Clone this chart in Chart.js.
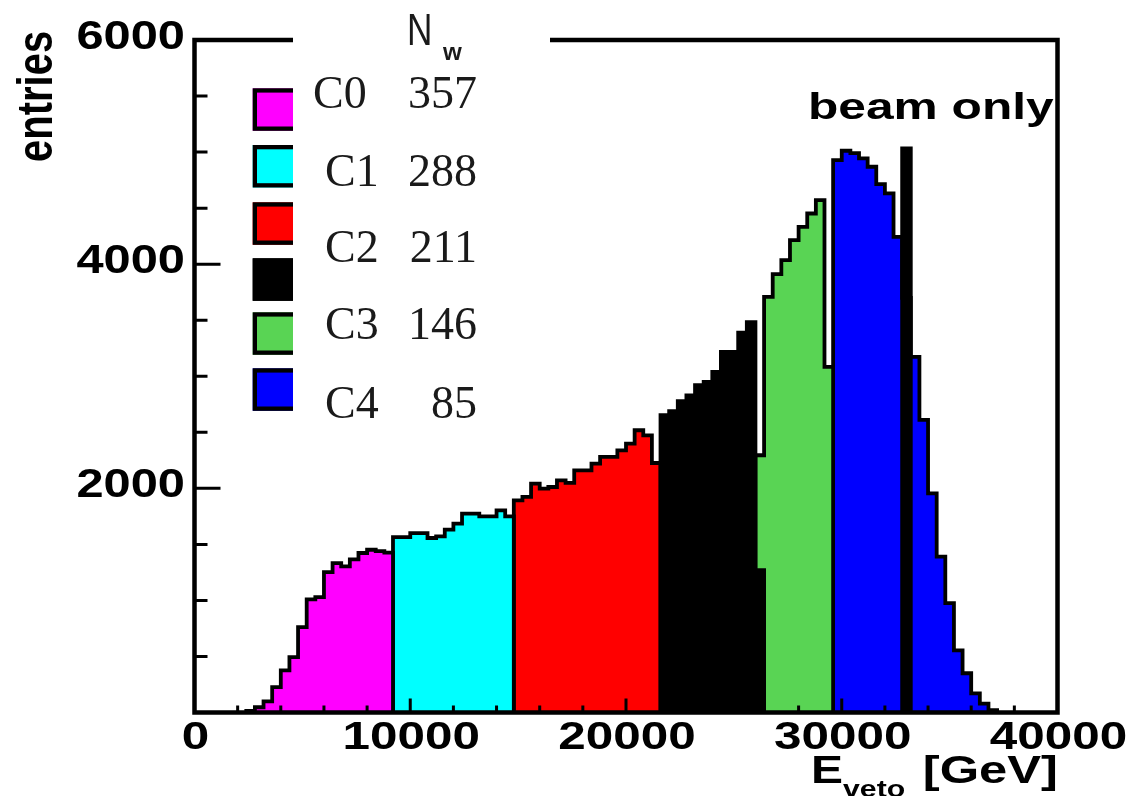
<!DOCTYPE html>
<html>
<head>
<meta charset="utf-8">
<script src="https://cdn.jsdelivr.net/npm/chart.js@4.4.1/dist/chart.umd.min.js"></script>
<style>
  html, body { margin: 0; background: #fff; }
  canvas { display: block; }
</style>
</head>
<body>
<canvas id="chart" width="1128" height="796"></canvas>
<script>
// histogram bins are 400 GeV wide; each segment starts at the given E_veto
const binWidth = 400;

const c0Start = 2400;
const c0 = [15, 47, 100, 226, 375, 494, 762, 1009, 1030, 1253, 1333, 1304, 1366, 1423, 1452, 1440, 1426];
const c1Start = 9200;
const c1 = [1565, 1565, 1601, 1601, 1557, 1571, 1631, 1685, 1774, 1774, 1750, 1750, 1804, 1750];
const c2Start = 14800;
const c2 = [1893, 1923, 2042, 1997, 2012, 2071, 2048, 2161, 2161, 2220, 2280, 2280, 2339, 2399, 2518, 2473, 2226];
const blkStart = 21600;
const blk = [2652, 2688, 2777, 2830, 2920, 2949, 3039, 3217, 3217, 3390, 3482, 1270];
const c3Start = 26000;
const c3 = [2295, 3708, 3911, 4036, 4214, 4333, 4452, 4571, 3083];
const c4Start = 29600;
const c4 = [4929, 5012, 4990, 4943, 4869, 4714, 4631, 4244, 3700, 3173, 2610, 1955, 1390, 975, 555, 350, 170, 80, 20];
const beamStart = 32800;
const beam = [5033];

const xTicks = [0, 10000, 20000, 30000, 40000];
const yTicks = [2000, 4000, 6000];
const legendLabels = ["C0", "C1", "C2", "C3", "C4"];
const legendCounts = ["357", "288", "211", "146", "85"];

const colors = {
  c0: "#ff00ff", c1: "#00ffff", c2: "#ff0000", blk: "#000000", c3: "#59d454", c4: "#0000ff"
};

// outline of a histogram segment: up from 0, along bin tops, back down to 0
function steps(start, values) {
  const pts = [{ x: start, y: 0 }];
  values.forEach((v, i) => pts.push({ x: start + i * binWidth, y: v }));
  pts.push({ x: start + values.length * binWidth, y: 0 });
  return pts;
}

function hist(start, values, color, order) {
  return {
    data: steps(start, values),
    stepped: true,
    fill: "origin",
    backgroundColor: color,
    borderColor: "#000",
    borderWidth: 3.8,
    borderJoinStyle: "miter",
    pointRadius: 0,
    tension: 0,
    order: order
  };
}

function txt(ctx, s, x, y, font, sx, align, base, color) {
  ctx.save();
  ctx.font = font;
  ctx.fillStyle = color || "#000";
  ctx.textAlign = align || "left";
  ctx.textBaseline = base || "alphabetic";
  ctx.translate(x, y);
  ctx.scale(sx, 1);
  ctx.fillText(s, 0, 0);
  ctx.restore();
}

const decor = {
  id: "decor",
  afterDraw(chart) {
    const ctx = chart.ctx;
    const xs = chart.scales.x, ys = chart.scales.y;
    const a = chart.chartArea;

    // frame
    ctx.save();
    ctx.strokeStyle = "#000";
    ctx.lineWidth = 4.5;
    ctx.strokeRect(a.left, a.top, a.right - a.left, a.bottom - a.top);

    // inward ticks
    ctx.lineWidth = 3;
    ctx.beginPath();
    for (let v = 500; v < 6000; v += 500) {
      const y = ys.getPixelForValue(v);
      const len = v % 2000 === 0 ? 26 : 13;
      ctx.moveTo(a.left, y); ctx.lineTo(a.left + len, y);
    }
    for (let v = 2000; v < 40000; v += 2000) {
      const x = xs.getPixelForValue(v);
      const len = v % 10000 === 0 ? 14 : 7;
      ctx.moveTo(x, a.bottom); ctx.lineTo(x, a.bottom - len);
    }
    ctx.stroke();
    ctx.restore();

    // tick labels
    yTicks.forEach(v => txt(ctx, String(v), 185, ys.getPixelForValue(v) - 2, "bold 40px 'Liberation Sans'", 1.22, "right", "middle"));
    xTicks.forEach(v => txt(ctx, String(v), xs.getPixelForValue(v) + 1, 749, "bold 38px 'Liberation Sans'", 1.3, "center", "alphabetic"));

    // axis titles
    ctx.save();
    ctx.translate(52, 162);
    ctx.rotate(-Math.PI / 2);
    ctx.scale(1, 1.25);
    ctx.font = "bold 40px 'Liberation Sans'";
    ctx.fillStyle = "#000";
    ctx.textBaseline = "alphabetic";
    ctx.fillText("entries", 0, 0);
    ctx.restore();

    txt(ctx, "E", 811, 783, "bold 39px 'Liberation Sans'", 1.23);
    txt(ctx, "veto", 843, 797, "bold 24px 'Liberation Sans'", 1.26);
    txt(ctx, "[GeV]", 1058, 783, "bold 39px 'Liberation Sans'", 1.3, "right");

    txt(ctx, "beam only", 808, 119, "bold 36px 'Liberation Sans'", 1.38);

    // legend colour boxes
    const boxTops = [88.3, 145, 202.3, 258.3, 312.3, 368.3];
    const boxCols = [colors.c0, colors.c1, colors.c2, colors.blk, colors.c3, colors.c4];
    ctx.save();
    boxTops.forEach((t, i) => {
      ctx.fillStyle = boxCols[i];
      ctx.fillRect(252.7, t, 60, 42.5);
      ctx.strokeStyle = "#000";
      ctx.lineWidth = 4.3;
      ctx.strokeRect(254.85, t + 2.15, 60, 38.2);
    });
    // second legend pad (white) overlapping the boxes
    ctx.fillStyle = "#fff";
    ctx.fillRect(293, 0, 257, 425);
    ctx.restore();

    // N_w header
    txt(ctx, "N", 407, 45, "44px 'Liberation Sans'", 0.8, "left", "alphabetic", "#1a1a1a");
    txt(ctx, "w", 443, 60, "bold 23px 'Liberation Sans'", 1.05, "left", "alphabetic", "#1a1a1a");

    const labX = [313, 325, 325, 325, 325];
    const baseY = [108.3, 186, 262.3, 339.3, 418.3];
    legendLabels.forEach((l, i) => {
      txt(ctx, l, labX[i], baseY[i], "46px 'Liberation Serif'", 1, "left", "alphabetic", "#1a1a1a");
      txt(ctx, legendCounts[i], 477, baseY[i], "46px 'Liberation Serif'", 1, "right", "alphabetic", "#1a1a1a");
    });
  }
};

new Chart(document.getElementById("chart"), {
  type: "line",
  data: {
    datasets: [
      hist(beamStart, beam, colors.blk, 0),
      hist(blkStart, blk, colors.blk, 1),
      hist(c0Start, c0, colors.c0, 2),
      hist(c1Start, c1, colors.c1, 3),
      hist(c2Start, c2, colors.c2, 4),
      hist(c3Start, c3, colors.c3, 5),
      hist(c4Start, c4, colors.c4, 6)
    ]
  },
  options: {
    responsive: false,
    animation: false,
    devicePixelRatio: 1,
    layout: { padding: { left: 194.5, right: 70.5, top: 40, bottom: 83.5 } },
    plugins: { legend: { display: false }, tooltip: { enabled: false } },
    scales: {
      x: { type: "linear", min: 0, max: 40000, display: false },
      y: { type: "linear", min: 0, max: 6000, display: false }
    }
  },
  plugins: [decor]
});
</script>
</body>
</html>
